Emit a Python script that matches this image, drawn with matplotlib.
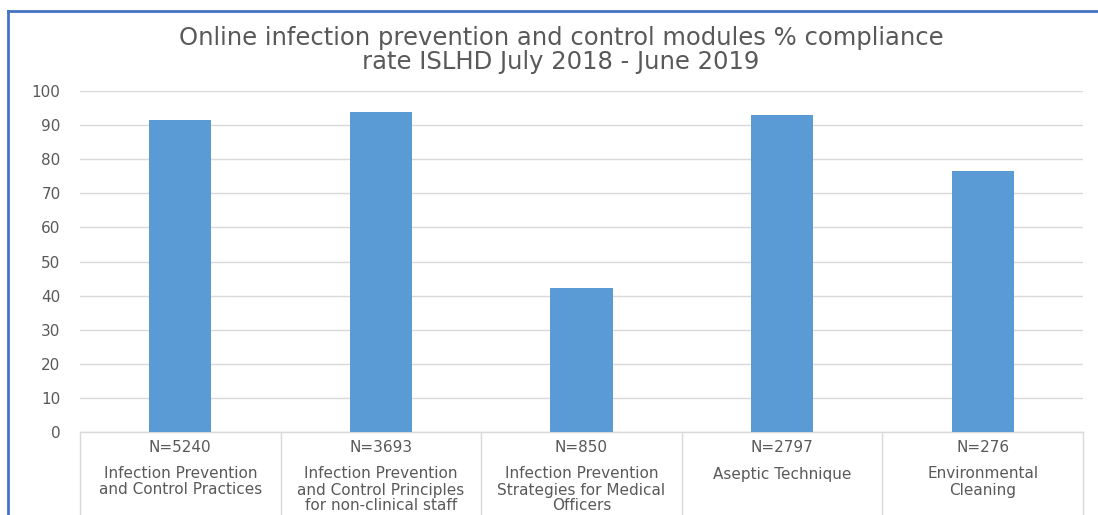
import matplotlib
matplotlib.use("Agg")
import matplotlib.pyplot as plt
from matplotlib.lines import Line2D
import matplotlib.transforms as mtransforms

counts = ["N=5240", "N=3693", "N=850", "N=2797", "N=276"]
modules = [["Infection Prevention", "and Control Practices"],
           ["Infection Prevention", "and Control Principles", "for non-clinical staff"],
           ["Infection Prevention", "Strategies for Medical", "Officers"],
           ["Aseptic Technique"],
           ["Environmental", "Cleaning"]]
compliance = [91.4, 93.7, 42.1, 92.9, 76.5]
yticks = [0, 10, 20, 30, 40, 50, 60, 70, 80, 90, 100]
title_lines = ["Online infection prevention and control modules % compliance",
               "rate ISLHD July 2018 - June 2019"]

W, H = 1098, 515
fig = plt.figure(figsize=(W / 100, H / 100), dpi=100)
fig.patch.set_facecolor("white")

left, right, top_px, bot_px = 80, 1083, 91, 432
ax = fig.add_axes([left / W, (H - bot_px) / H, (right - left) / W, (bot_px - top_px) / H])

x = list(range(len(compliance)))
ax.bar(x, compliance, width=0.31, color="#5B9BD5", zorder=3)
ax.set_xlim(-0.5, len(compliance) - 0.5)
ax.set_ylim(0, 100)
ax.set_yticks(yticks)
ax.set_yticklabels([str(t) for t in yticks])
ax.tick_params(axis="y", length=0, pad=14, labelsize=11, labelcolor="#595959")
ax.set_xticks([])
ax.grid(axis="y", color="#D9D9D9", linewidth=1, zorder=0)
for s in ["top", "right", "left"]:
    ax.spines[s].set_visible(False)
ax.spines["bottom"].set_color("#D9D9D9")
ax.spines["bottom"].set_linewidth(1)

trans = mtransforms.blended_transform_factory(ax.transData, ax.transAxes)
ax_h = bot_px - top_px
for i in range(len(compliance) + 1):
    ax.add_line(Line2D([i - 0.5, i - 0.5], [0, -(H - bot_px + 5) / ax_h], transform=trans,
                       color="#D9D9D9", linewidth=1, clip_on=False))

for i, (c, m) in enumerate(zip(counts, modules)):
    ax.text(i, -(448 - bot_px) / ax_h, c, transform=trans, ha="center", va="center",
            fontsize=11, color="#595959")
    for j, line in enumerate(m):
        ax.text(i, -(474 + 16 * j - bot_px) / ax_h, line, transform=trans, ha="center",
                va="center", fontsize=11, color="#595959")

for j, line in enumerate(title_lines):
    fig.text(561 / W, 1 - (38 + 24 * j) / H, line, ha="center", va="center",
             fontsize=17.5, color="#595959")

# Outer blue border
fig.add_artist(Line2D([8 / W, 1.0], [1 - 11 / H, 1 - 11 / H], transform=fig.transFigure,
                      color="#4472C4", linewidth=2))
fig.add_artist(Line2D([8 / W, 8 / W], [0, 1 - 11 / H], transform=fig.transFigure,
                      color="#4472C4", linewidth=2))

fig.savefig("out.png", dpi=100, facecolor="white")
